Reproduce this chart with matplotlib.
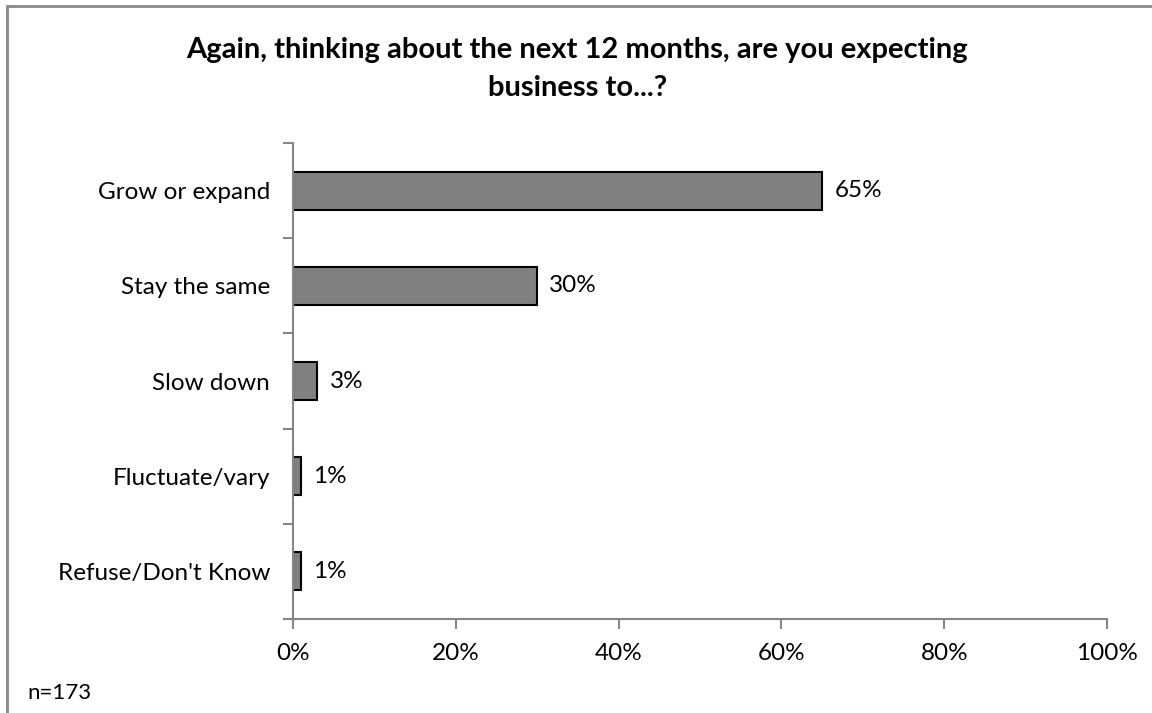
import matplotlib.pyplot as plt
from matplotlib.patches import Rectangle
from matplotlib.ticker import PercentFormatter

categories = ["Grow or expand", "Stay the same", "Slow down",
              "Fluctuate/vary", "Refuse/Don't Know"]
shares = [65, 30, 3, 1, 1]
x_ticks = [0, 20, 40, 60, 80, 100]
title = "Again, thinking about the next 12 months, are you expecting\nbusiness to...?"
note = "n=173"

plt.rcParams['font.family'] = ['Lato', 'DejaVu Sans']
axis_grey = '#868686'
fs = 17.5

fig = plt.figure(figsize=(11.52, 7.13), dpi=100)
ax = fig.add_axes([293 / 1152, 1 - 619 / 713, 814 / 1152, 476 / 713])

pos = list(range(len(categories)))
ax.barh(pos, shares, height=0.4, color='#808080', edgecolor='black', linewidth=1.5)
for y, v in zip(pos, shares):
    ax.text(v + 1.5, y, f"{v}%", va='center', ha='left', fontsize=fs)

ax.set_ylim(len(categories) - 0.5, -0.5)
ax.set_yticks(pos)
ax.set_yticklabels(categories, fontsize=fs)
ax.set_yticks([p - 0.5 for p in range(len(categories) + 1)], minor=True)
ax.tick_params(axis='y', which='major', length=0, pad=16.5)
ax.tick_params(axis='y', which='minor', length=7, color=axis_grey, width=1.5)

ax.set_xlim(0, 100)
ax.set_xticks(x_ticks)
ax.xaxis.set_major_formatter(PercentFormatter(decimals=0))
ax.tick_params(axis='x', length=7, color=axis_grey, width=1.5, labelsize=fs, pad=10)

for side in ['top', 'right']:
    ax.spines[side].set_visible(False)
for side in ['left', 'bottom']:
    ax.spines[side].set_color(axis_grey)
    ax.spines[side].set_linewidth(1.5)

fig.text(0.501, 1 - 69 / 713, title, ha='center', va='center',
         fontsize=21, fontweight='bold', linespacing=1.55)
fig.text(27 / 1152, 1 - 693 / 713, note, ha='left', va='center', fontsize=16)

# chart frame
fig.patches.append(Rectangle((7 / 1152, -0.05), 1.1, 1 - 6 / 713 + 0.05,
                             transform=fig.transFigure, fill=False,
                             edgecolor='#888888', linewidth=2))

plt.savefig('out.png', dpi=100)
